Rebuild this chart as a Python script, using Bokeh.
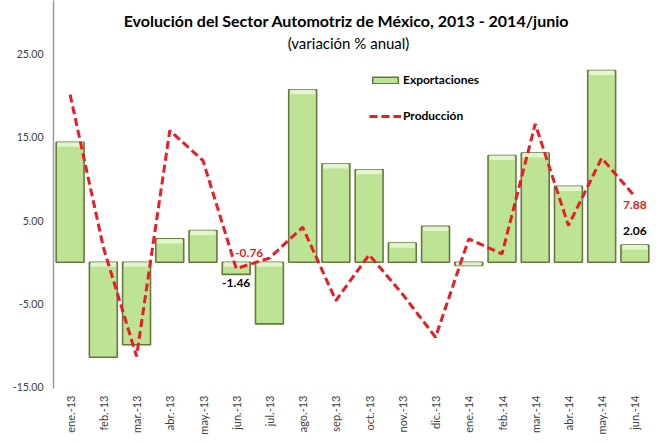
import math
from bokeh.plotting import figure
from bokeh.models import (Range1d, FactorRange, FixedTicker, NumeralTickFormatter,
                          Label, Legend, LegendItem, ColumnDataSource)
from bokeh.core.properties import value
from bokeh.embed import file_html
from bokeh.resources import INLINE

# ---- data ----
meses = ["ene.-13", "feb.-13", "mar.-13", "abr.-13", "may.-13", "jun.-13",
         "jul.-13", "ago.-13", "sep.-13", "oct.-13", "nov.-13", "dic.-13",
         "ene.-14", "feb.-14", "mar.-14", "abr.-14", "may.-14", "jun.-14"]
exportaciones = [14.4, -11.4, -9.9, 2.8, 3.8, -1.46, -7.4, 20.7, 11.8, 11.1,
                 2.3, 4.3, -0.4, 12.8, 13.1, 9.1, 23.0, 2.06]
produccion = [20.1, 1.8, -11.3, 15.8, 12.2, -0.76, 0.5, 4.2, -4.6, 0.9,
              -3.8, -9.0, 2.8, 1.0, 16.6, 4.4, 12.5, 7.88]
y_ticks = [-15, -5, 5, 15, 25]
titulo = "Evolución del Sector Automotriz de México, 2013 - 2014/junio"
subtitulo = "(variación % anual)"
serie_barras = "Exportaciones"
serie_linea = "Producción"

FONT = "Lato"
GREEN = "#bde394"
GREEN_LIGHT = "#e3f5cc"
GREEN_EDGE = "#66793f"
RED = "#ec1c24"

# bevel highlight strip at the top edge of each bar (derived from the data)
hl_top = [max(0.0, v) for v in exportaciones]
hl_bot = [max(min(0.0, v), t - 0.55) for v, t in zip(exportaciones, hl_top)]

src = ColumnDataSource(dict(mes=meses, exp=exportaciones, prod=produccion,
                            hl_top=hl_top, hl_bot=hl_bot))

p = figure(frame_width=598, frame_height=388,
           x_range=FactorRange(*meses), y_range=Range1d(-15.15, 31.4),
           output_backend="svg", toolbar_location=None,
           min_border_left=53, min_border_right=2, min_border_top=0,
           min_border_bottom=50)

p.grid.grid_line_color = None
p.outline_line_color = None
p.background_fill_color = "white"

# y axis
p.yaxis.ticker = FixedTicker(ticks=y_ticks)
p.yaxis.formatter = NumeralTickFormatter(format="0.00")
p.yaxis.axis_line_color = "#9a9a9a"
p.yaxis.axis_line_width = 1.5
p.yaxis.major_tick_line_color = None
p.yaxis.minor_tick_line_color = None
p.yaxis.major_tick_out = 0
p.yaxis.major_tick_in = 0
p.yaxis.major_label_text_font = FONT
p.yaxis.major_label_text_font_size = "10.5px"
p.yaxis.major_label_text_color = "#404040"
p.yaxis.major_label_standoff = 10

# x axis
p.xaxis.axis_line_color = None
p.xaxis.major_tick_line_color = None
p.xaxis.minor_tick_line_color = None
p.xaxis.major_tick_out = 0
p.xaxis.major_tick_in = 0
p.xaxis.major_label_orientation = math.pi / 2
p.xaxis.major_label_text_font = FONT
p.xaxis.major_label_text_font_size = "11px"
p.xaxis.major_label_text_color = "#404040"
p.xaxis.major_label_standoff = 7

bars = p.vbar(x="mes", top="exp", bottom=0, width=0.84, source=src,
              fill_color=GREEN, line_color=GREEN_EDGE, line_width=1.6)
p.vbar(x="mes", top="hl_top", bottom="hl_bot", width=0.76, source=src,
       fill_color=GREEN_LIGHT, line_color=None)
line = p.line(x="mes", y="prod", source=src, line_color=RED, line_width=3,
              line_dash="8 4")

# data labels
lbl_style = dict(text_align="center", text_baseline="middle",
                 text_font=value(FONT), text_font_style="bold",
                 text_font_size="12px")
p.text(x=[meses[5]], y=[exportaciones[5]], text=[f"{exportaciones[5]:.2f}"],
       y_offset=9, text_color="black", **lbl_style)
p.text(x=[meses[17]], y=[exportaciones[17]], text=[f"{exportaciones[17]:.2f}"],
       y_offset=-14, text_color="black", **lbl_style)
p.text(x=[meses[5]], y=[produccion[5]], text=[f"{produccion[5]:.2f}"],
       x_offset=13, y_offset=-16, text_color=RED, **lbl_style)
p.text(x=[meses[17]], y=[produccion[17]], text=[f"{produccion[17]:.2f}"],
       y_offset=8, text_color=RED, **lbl_style)

# legend
legend = Legend(items=[LegendItem(label=serie_barras, renderers=[bars]),
                       LegendItem(label=serie_linea, renderers=[line])],
                location=(316, 265), glyph_width=32, glyph_height=8,
                label_height=14, spacing=21, padding=0, margin=0,
                label_standoff=2, border_line_color=None,
                background_fill_alpha=0,
                label_text_font=FONT, label_text_font_size="12px",
                label_text_font_style="bold", label_text_color="black")
p.add_layout(legend, "center")

# titles
p.add_layout(Label(x=293, y=368, x_units="screen", y_units="screen",
                   text=titulo, text_align="center", text_baseline="middle",
                   text_font=FONT, text_font_size="16px",
                   text_font_style="bold", text_color="black"))
p.add_layout(Label(x=295, y=346, x_units="screen", y_units="screen",
                   text=subtitulo, text_align="center", text_baseline="middle",
                   text_font=FONT, text_font_size="15px", text_color="black"))

open("out.html", "w").write(file_html(p, INLINE))
